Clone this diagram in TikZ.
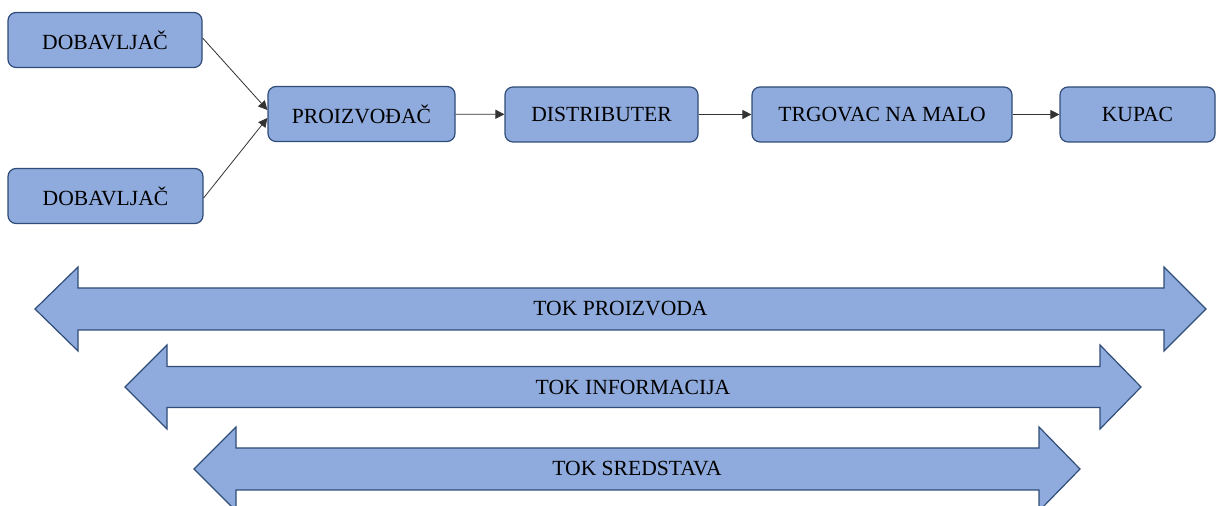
\documentclass[tikz,border=0pt]{standalone}
\usepackage{fontspec}
\setmainfont{Liberation Serif}
\usepackage{tikz}
\usetikzlibrary{arrows.meta,positioning}

\definecolor{boxfill}{HTML}{8FAADC}
\definecolor{boxline}{HTML}{2F4D78}

\begin{document}
\begin{tikzpicture}[x=0.5pt,y=-0.5pt,
    box/.style={draw=boxline, fill=boxfill, line width=0.6pt, rounded corners=4pt,
        minimum height=27.5pt, inner sep=0pt, text=black,
        font=\fontsize{10.8}{13}\selectfont},
    link/.style={draw=black!80, line width=0.4pt, -{Triangle[length=4.5pt,width=4.5pt]}},
    flow/.style={draw=boxline, fill=boxfill, line width=0.6pt},
    flowtext/.style={text=black, font=\fontsize{10.8}{13}\selectfont}]
    \useasboundingbox (0,0) rectangle (1224,506);
    \clip (0,0) rectangle (1224,506);
    % lanac
    \node[box, minimum width=97pt] (dob1) at (105, 40) {DOBAVLJAČ};
    \node[box, minimum width=97.5pt] (dob2) at (105.5, 196) {DOBAVLJAČ};
    \node[box, minimum width=93.5pt] (proiz) at (361.5, 114) {PROIZVOĐAČ};
    \node[box, minimum width=96.5pt] (distr) at (601.5, 114.5) {DISTRIBUTER};
    \node[box, minimum width=130pt] (trgov) at (882, 114.5) {TRGOVAC NA MALO};
    \node[box, minimum width=77.5pt] (kupac) at (1137.5, 114.5) {KUPAC};
    \draw[link] ([yshift=1pt]dob1.east) -- ([yshift=2pt]proiz.west);
    \draw[link] ([yshift=-1pt]dob2.east) -- ([yshift=-2pt]proiz.west);
    \draw[link] (proiz) -- (distr);
    \draw[link] (distr) -- (trgov);
    \draw[link] (trgov) -- (kupac);
    % tokovi
    \draw[flow] (35,309) -- (78,267) -- (78,288) -- (1164,288) -- (1164,267) -- (1206,309)
        -- (1164,351) -- (1164,330) -- (78,330) -- (78,351) -- cycle;
    \node[flowtext] (tokproiz) at (620.5,309) {TOK PROIZVODA};
    \draw[flow] (125,387) -- (167,345) -- (167,366.5) -- (1100,366.5) -- (1100,345) -- (1141,387)
        -- (1100,429) -- (1100,407.5) -- (167,407.5) -- (167,429) -- cycle;
    \node[flowtext] (tokinfo) at (633,387) {TOK INFORMACIJA};
    \draw[flow] (194,469) -- (236,427) -- (236,448) -- (1039,448) -- (1039,427) -- (1080,469)
        -- (1039,511) -- (1039,490) -- (236,490) -- (236,511) -- cycle;
    \node[flowtext] (toksred) at (637,469) {TOK SREDSTAVA};
\end{tikzpicture}
\end{document}
